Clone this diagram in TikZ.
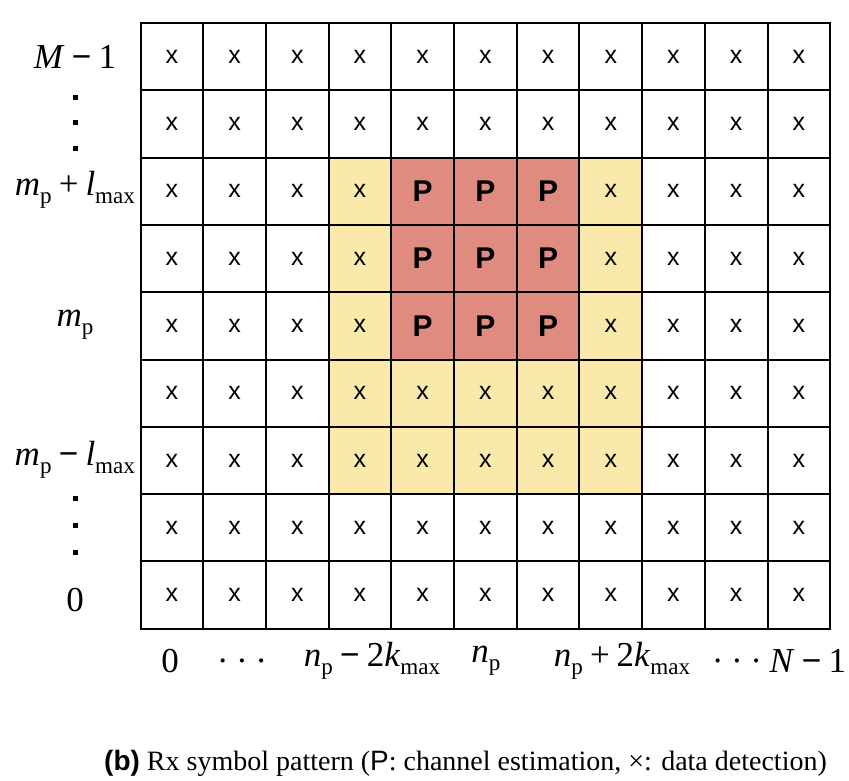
\documentclass[tikz,border=0pt]{standalone}
\usepackage{fontspec}
\setmainfont{Liberation Serif}
\setsansfont{Liberation Sans}
\definecolor{yellowfill}{RGB}{249,234,171}
\definecolor{redfill}{RGB}{224,139,128}
\newcommand{\lsub}[1]{\raisebox{-0.22em}{\fontsize{0.66em}{0.66em}\selectfont #1}}
\newcommand{\lmin}{\hspace{0.2em}\textbf{−}\hspace{0.2em}}
\newcommand{\lplus}{\hspace{0.2em}+\hspace{0.2em}}
\begin{document}
\begin{tikzpicture}[x=1pt,y=-1pt,
  cell/.style={draw=none, minimum width=62.7pt, minimum height=67.3pt,
    inner sep=0pt, outer sep=0pt, font=\sffamily\fontsize{25}{25}\selectfont},
  dcell/.style={cell, fill=white},
  ycell/.style={cell, fill=yellowfill},
  pcell/.style={cell, fill=redfill, font=\sffamily\bfseries\fontsize{30}{30}\selectfont},
  gridline/.style={draw=black, line width=2pt},
  lab/.style={font=\fontsize{35}{35}\selectfont, inner sep=0pt, outer sep=0pt},
  vdot/.style={fill=black, minimum size=5pt, inner sep=0pt, outer sep=0pt, rectangle}]
\useasboundingbox (0,0) rectangle (849,780);
\fill[white] (0,0) rectangle (849,780);
% grid of cells
\foreach \i in {0,...,10}{
  \foreach \j in {0,...,8}{
    \pgfmathtruncatemacro\kind{((\i>=4)&&(\i<=6)&&(\j>=2)&&(\j<=4)) ? 2 : (((\i>=3)&&(\i<=7)&&(\j>=2)&&(\j<=6)) ? 1 : 0)}
    \ifcase\kind
      \node[dcell] (c-\i-\j) at ({140.5+62.7*(\i+0.5)},{23+67.3*(\j+0.5)}) {x};
    \or
      \node[ycell] (c-\i-\j) at ({140.5+62.7*(\i+0.5)},{23+67.3*(\j+0.5)}) {x};
    \or
      \node[pcell] (c-\i-\j) at ({140.5+62.7*(\i+0.5)},{23+67.3*(\j+0.5)}) {P};
    \fi
  }
}
% grid lines
\foreach \i in {0,...,11}{
  \draw[gridline] ({140.5+62.7*\i},22) -- ({140.5+62.7*\i},{23+67.3*9+1});
}
\foreach \j in {0,...,9}{
  \draw[gridline] (139.5,{23+67.3*\j}) -- ({140.5+62.7*11+1},{23+67.3*\j});
}
% row labels
\node[lab] (rM) at (75,57) {\textit{M}\lmin1};
\node[vdot] (d1) at (75,97) {};
\node[vdot] (d2) at (75,122) {};
\node[vdot] (d3) at (75,148) {};
\node[lab, anchor=east] (rmpl) at (135,190) {\textit{m}\lsub{p}\lplus\textit{l}\lsub{max}};
\node[lab] (rmp) at (75,325) {\textit{m}\lsub{p}};
\node[lab, anchor=east] (rmml) at (135,460) {\textit{m}\lsub{p}\lmin\textit{l}\lsub{max}};
\node[vdot] (d4) at (75,498) {};
\node[vdot] (d5) at (75,525) {};
\node[vdot] (d6) at (75,552) {};
\node[lab] (r0) at (75,600) {0};
% column labels
\node[lab] (k0) at (170,661) {0};
\node[lab] (kd1) at (242,661) {.\hspace{0.3em}.\hspace{0.3em}.};
\node[lab] (knm) at (372,661) {\textit{n}\lsub{p}\lmin2\textit{k}\lsub{max}};
\node[lab] (knp) at (486,661) {\textit{n}\lsub{p}};
\node[lab] (knpl) at (622,661) {\textit{n}\lsub{p}\lplus2\textit{k}\lsub{max}};
\node[lab] (kd2) at (737,661) {.\hspace{0.3em}.\hspace{0.3em}.};
\node[lab, anchor=east] (kN) at (846,661) {\textit{N}\lmin1};
% caption
\node[anchor=base west, inner sep=0pt, font=\fontsize{28}{28}\selectfont] (cap) at (104,770)
  {{\sffamily\bfseries (b)} Rx symbol pattern ({\sffamily P}: channel estimation, ×: data detection)};
\end{tikzpicture}
\end{document}
